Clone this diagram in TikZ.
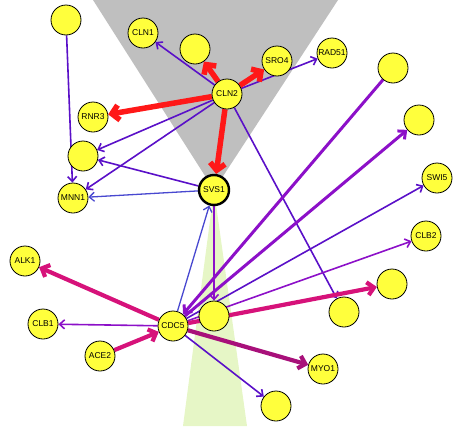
\documentclass[tikz,border=0pt]{standalone}
\usepackage{fontspec}
\setsansfont{Liberation Sans}
\usepackage{xcolor}
\usetikzlibrary{arrows.meta}
\pgfdeclarelayer{bg}
\pgfdeclarelayer{edges}
\pgfsetlayers{bg,edges,main}
\definecolor{genefill}{HTML}{FFFF3C}
\definecolor{conegray}{HTML}{BFBFBF}
\definecolor{conegreen}{HTML}{E6F6C6}
\definecolor{redlink}{HTML}{FF1818}
\definecolor{violetlink}{HTML}{5A10C8}
\definecolor{bluelink}{HTML}{4848D0}
\definecolor{purplelink}{HTML}{8C10C8}
\definecolor{magentalink}{HTML}{D6127A}
\definecolor{plumlink}{HTML}{A8107A}

\begin{document}
\begin{tikzpicture}[x=1pt,y=-1pt,
    gene/.style={circle,draw=black,line width=0.8pt,fill=genefill,minimum size=30pt,
      inner sep=0pt,font=\sffamily\fontsize{8.5}{9}\selectfont},
    hub/.style={gene,line width=2.4pt},
    thinlink/.style={-{Straight Barb[length=5pt,width=9pt]},line width=1.6pt},
    thicklink/.style={-{Straight Barb[length=6pt,width=11pt]},line width=3pt},
    fatlink/.style={-{Straight Barb[length=6.5pt,width=13pt]},line width=4.2pt},
    redlinkstyle/.style={-{Straight Barb[length=7pt,width=15pt]},line width=5.5pt,redlink}]
    \useasboundingbox (0,0) rectangle (460,426);
    \begin{pgfonlayer}{bg}
      \fill[conegray] (93,0) -- (338,0) -- (214,190) -- cycle;
      \fill[conegreen] (214,190) -- (183,426) -- (247,426) -- cycle;
    \end{pgfonlayer}

    \node[gene] (n1) at (66,20) {};
    \node[gene] (cln1) at (143,33) {CLN1};
    \node[gene] (n2) at (195,49) {};
    \node[gene] (cln2) at (227,94) {CLN2};
    \node[gene] (sro4) at (277,61) {SRO4};
    \node[gene] (rad51) at (332,53) {RAD51};
    \node[gene] (n3) at (393,68) {};
    \node[gene] (n4) at (419,120) {};
    \node[gene] (swi5) at (437,178) {SWI5};
    \node[gene] (rnr3) at (93,117) {RNR3};
    \node[gene] (n5) at (83,156) {};
    \node[gene] (mnn1) at (73,198) {MNN1};
    \node[hub] (svs1) at (214,190) {SVS1};
    \node[gene] (alk1) at (25,261) {ALK1};
    \node[gene] (clb1) at (43,324) {CLB1};
    \node[gene] (ace2) at (100,356) {ACE2};
    \node[gene] (cdc5) at (173,326) {CDC5};
    \node[gene] (n6) at (214,316) {};
    \node[gene] (clb2) at (426,236) {CLB2};
    \node[gene] (n7) at (392,284) {};
    \node[gene] (n8) at (344,312) {};
    \node[gene] (myo1) at (323,369) {MYO1};
    \node[gene] (n9) at (276,406) {};

    \begin{pgfonlayer}{edges}
      \foreach \a/\b in {cln2/cln1,cln2/rad51,cln2/n5,cln2/mnn1,cln2/n8,n1/mnn1,svs1/n5,cdc5/swi5,cdc5/n9}
        \draw[thinlink,violetlink] (\a) to (\b);
      \foreach \a/\b in {svs1/mnn1,cdc5/svs1}
        \draw[thinlink,bluelink,line width=1.3pt] (\a) to (\b);
      \foreach \a/\b in {cdc5/clb1,cdc5/clb2,svs1/n6}
        \draw[thinlink,purplelink] (\a) to (\b);
      \draw[thicklink,purplelink] (n3) to (cdc5);
      \draw[thicklink,purplelink] (cdc5) to (n4);
      \foreach \a/\b in {cdc5/alk1,ace2/cdc5,cdc5/n7}
        \draw[fatlink,magentalink] (\a) to (\b);
      \draw[fatlink,plumlink] (cdc5) to (myo1);
      \foreach \b in {n2,sro4,rnr3,svs1}
        \draw[redlinkstyle] (cln2) to (\b);
    \end{pgfonlayer}
  \end{tikzpicture}
\end{document}
